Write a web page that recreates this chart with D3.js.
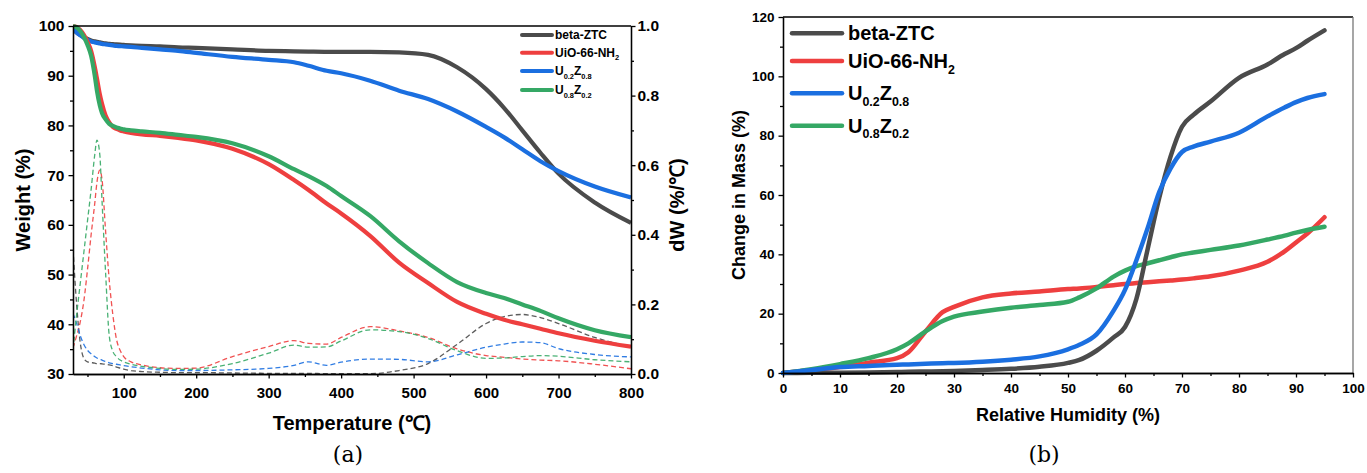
<!DOCTYPE html>
<html>
<head>
<meta charset="utf-8">
<script src="https://cdn.jsdelivr.net/npm/d3@7"></script>
<style>
  body { margin: 0; background: #fff; }
  svg text { font-family: "Liberation Sans", Arial, sans-serif; font-weight: bold; fill: #000; }
  .axis path, .axis line { stroke: #000; stroke-width: 1.3px; }
</style>
</head>
<body>
<svg id="chart" width="1367" height="473"></svg>
<script>
// series names and colours
const SERIES = ['beta-ZTC', 'UiO-66-NH_{2}', 'U_{0.2}Z_{0.8}', 'U_{0.8}Z_{0.2}'];
const COLORS = ['#4b4b4b', '#ee3f3f', '#1b6fe0', '#35a865'];

// (a) TGA / DTG - temperature grid (°C)
const temps = [30, 35, 40, 45, 50, 55, 60, 63, 67, 70, 75, 80, 85, 90, 95, 100, 110, 125, 150, 175,
  200, 250, 300, 335, 355, 380, 400, 440, 480, 520, 560, 600, 625, 650, 675, 700, 750, 800];

// weight (%)
const tgaBeta = [99.3, 98.7, 98.2, 97.8, 97.4, 97.1, 96.9, 96.8, 96.7, 96.6, 96.5, 96.4, 96.35, 96.3, 96.25, 96.2, 96.1, 96.0, 95.9, 95.7,
  95.6, 95.3, 95.0, 94.9, 94.85, 94.8, 94.8, 94.8, 94.7, 94.2, 91.7, 87.3, 83.5, 79.0, 74.5, 70.3, 64.5, 60.4];
const tgaUio = [100, 99.8, 99.2, 98.2, 96.8, 95.0, 91.8, 89.5, 86.3, 84.4, 82.0, 80.6, 79.7, 79.3, 79.0, 78.8, 78.5, 78.2, 77.9, 77.5,
  77.0, 75.3, 72.2, 69.0, 67.0, 64.3, 62.3, 57.8, 52.4, 48.3, 44.5, 42.1, 40.9, 40.0, 39.1, 38.2, 36.7, 35.5];
const tgaU02 = [99.5, 98.7, 98.1, 97.6, 97.2, 96.9, 96.7, 96.6, 96.5, 96.4, 96.3, 96.2, 96.1, 96.0, 95.95, 95.9, 95.8, 95.6, 95.3, 95.0,
  94.6, 93.8, 93.2, 92.7, 92.0, 91.0, 90.5, 89.0, 87.0, 85.3, 82.8, 79.7, 77.6, 75.2, 72.8, 70.8, 67.7, 65.5];
const tgaU08 = [100, 99.7, 99.0, 97.8, 96.2, 94.0, 90.0, 87.0, 84.0, 82.5, 81.2, 80.3, 79.9, 79.6, 79.4, 79.2, 79.0, 78.8, 78.5, 78.1,
  77.7, 76.4, 73.8, 71.2, 69.8, 67.8, 65.8, 61.8, 56.7, 52.3, 48.5, 46.3, 45.3, 44.0, 42.7, 41.2, 38.8, 37.4];

// dW (%/°C)
const dtgBeta = [0.36, 0.2, 0.09, 0.045, 0.035, 0.033, 0.031, 0.03, 0.03, 0.029, 0.028, 0.026, 0.024, 0.02, 0.017, 0.014, 0.01, 0.007, 0.005, 0.004,
  0.004, 0.003, 0.002, 0.002, 0.002, 0.001, 0.001, 0.001, 0.01, 0.03, 0.085, 0.145, 0.165, 0.171, 0.162, 0.145, 0.105, 0.078];
const dtgUio = [0.075, 0.11, 0.15, 0.21, 0.3, 0.4, 0.49, 0.55, 0.586, 0.56, 0.41, 0.27, 0.17, 0.1, 0.068, 0.05, 0.035, 0.026, 0.018, 0.016,
  0.017, 0.05, 0.079, 0.096, 0.088, 0.086, 0.105, 0.136, 0.124, 0.105, 0.072, 0.053, 0.048, 0.043, 0.04, 0.038, 0.028, 0.015];
const dtgU02 = [0.174, 0.145, 0.11, 0.085, 0.068, 0.058, 0.05, 0.046, 0.043, 0.04, 0.036, 0.032, 0.03, 0.028, 0.026, 0.024, 0.021, 0.017, 0.012, 0.01,
  0.01, 0.012, 0.016, 0.025, 0.035, 0.025, 0.034, 0.043, 0.042, 0.035, 0.055, 0.077, 0.086, 0.092, 0.09, 0.073, 0.056, 0.049];
const dtgU08 = [0.07, 0.17, 0.26, 0.35, 0.44, 0.53, 0.63, 0.672, 0.63, 0.5, 0.29, 0.11, 0.065, 0.05, 0.04, 0.035, 0.028, 0.022, 0.016, 0.013,
  0.014, 0.03, 0.06, 0.083, 0.077, 0.078, 0.095, 0.127, 0.122, 0.102, 0.067, 0.045, 0.046, 0.05, 0.053, 0.051, 0.041, 0.035];

// (b) water uptake - relative humidity (%)
const rh = [0, 5, 10, 15, 20, 22, 25, 28, 30, 35, 40, 45, 50, 52, 55, 58, 60, 62, 64, 66, 68, 70, 72, 75, 80, 85, 88, 90, 92, 95];
const massBeta = [0, 0.05, 0.1, 0.2, 0.35, 0.4, 0.5, 0.6, 0.7, 1.0, 1.4, 2.1, 3.4, 4.4, 7.5, 12, 15.5, 25, 42, 59, 73, 83, 87, 91.5, 99.5, 104, 107.5, 109.5, 112, 115.5];
const massUio = [0, 1, 2, 3.5, 5, 7, 14, 20.5, 22.3, 25.5, 26.8, 27.5, 28.3, 28.5, 29, 29.6, 30, 30.3, 30.6, 30.9, 31.2, 31.5, 31.9, 32.6, 34.5, 37.5, 41, 44, 47, 52.5];
const massU02 = [0, 1, 2, 2.4, 2.8, 2.9, 3.1, 3.3, 3.4, 3.8, 4.5, 5.6, 8, 9.5, 13, 21, 28, 38, 49, 61, 69, 74.5, 76.3, 78, 81, 86.5, 89.5, 91.3, 92.7, 94];
const massU08 = [0, 1.3, 3, 5, 8, 10, 14, 17.5, 19, 20.7, 22, 22.9, 24, 25.5, 28.5, 32.5, 34.5, 36, 37, 38, 39, 40, 40.6, 41.5, 43, 45, 46.3, 47.3, 48.2, 49.3];

// ticks
const tempTicks = [100, 200, 300, 400, 500, 600, 700, 800];
const tempMinor = [50, 150, 250, 350, 450, 550, 650, 750];
const weightTicks = [30, 40, 50, 60, 70, 80, 90, 100];
const weightMinor = [35, 45, 55, 65, 75, 85, 95];
const dwTicks = [0, 0.2, 0.4, 0.6, 0.8, 1.0];
const dwMinor = [0.1, 0.3, 0.5, 0.7, 0.9];
const rhTicks = [0, 10, 20, 30, 40, 50, 60, 70, 80, 90, 100];
const rhMinor = [5, 15, 25, 35, 45, 55, 65, 75, 85, 95];
const massTicks = [0, 20, 40, 60, 80, 100, 120];
const massMinor = [10, 30, 50, 70, 90, 110];

const svg = d3.select('#chart');
svg.append('rect').attr('width', 1367).attr('height', 473).attr('fill', '#fff');

// write a label with _{...} subscripts
function richText(sel, label, fs) {
  const parts = label.split(/(_\{[^}]*\})/).filter(p => p.length);
  let shifted = false;
  parts.forEach(p => {
    if (p.startsWith('_{')) {
      sel.append('tspan').attr('font-size', fs * 0.62).attr('dy', fs * 0.28).text(p.slice(2, -1));
      shifted = true;
    } else {
      sel.append('tspan').attr('font-size', fs).attr('dy', shifted ? -fs * 0.28 : 0).text(p);
      shifted = false;
    }
  });
}

function drawAxis(g, axisFn, scale, major, minor, fmt, fs, pad, transform) {
  const a = g.append('g').attr('class', 'axis').attr('transform', transform);
  a.append('g').call(axisFn(scale).tickValues(minor).tickSize(3).tickFormat('').tickSizeOuter(0));
  const m = a.append('g').call(axisFn(scale).tickValues(major).tickSize(4.5).tickPadding(pad).tickFormat(fmt).tickSizeOuter(0));
  m.selectAll('text').attr('font-size', fs).attr('font-family', '"Liberation Sans", Arial, sans-serif').attr('font-weight', 'bold');
  a.selectAll('path.domain').attr('stroke', '#000').attr('stroke-width', 1.3);
  a.selectAll('.tick line').attr('stroke', '#000').attr('stroke-width', 1.2);
  return a;
}

// ---------- (a) ----------
const A = { left: 73, right: 631, top: 26, bottom: 374 };
const xA = d3.scaleLinear().domain([30, 800]).range([A.left, A.right]);
const yA = d3.scaleLinear().domain([30, 100]).range([A.bottom, A.top]);
const yA2 = d3.scaleLinear().domain([0, 1]).range([A.bottom, A.top]);

const gA = svg.append('g');
svg.append('clipPath').attr('id', 'clipA').append('rect')
  .attr('x', A.left).attr('y', A.top - 3).attr('width', A.right - A.left).attr('height', A.bottom - A.top + 3);

const tga = [tgaBeta, tgaUio, tgaU02, tgaU08];
const dtg = [dtgBeta, dtgUio, dtgU02, dtgU08];

const dashLayer = gA.append('g').attr('clip-path', 'url(#clipA)');
dtg.forEach((vals, i) => {
  const line = d3.line().x((d, j) => xA(temps[j])).y(d => yA2(d)).curve(d3.curveMonotoneX);
  dashLayer.append('path').datum(vals).attr('d', line)
    .attr('fill', 'none').attr('stroke', COLORS[i]).attr('stroke-width', 1.3)
    .attr('stroke-dasharray', '5,3').attr('opacity', 0.9);
});

const solidLayer = gA.append('g').attr('clip-path', 'url(#clipA)');
[0, 2, 1, 3].forEach(i => {
  const line = d3.line().x((d, j) => xA(temps[j])).y(d => yA(d)).curve(d3.curveMonotoneX);
  solidLayer.append('path').datum(tga[i]).attr('d', line)
    .attr('fill', 'none').attr('stroke', COLORS[i]).attr('stroke-width', 4.2)
    .attr('stroke-linejoin', 'round');
});

// frame
gA.append('line').attr('x1', A.left).attr('x2', A.right).attr('y1', A.top).attr('y2', A.top)
  .attr('stroke', '#000').attr('stroke-width', 1.3);

drawAxis(gA, d3.axisBottom, xA, tempTicks, tempMinor, d3.format('d'), 15, 9, `translate(0,${A.bottom})`);
drawAxis(gA, d3.axisLeft, yA, weightTicks, weightMinor, d3.format('d'), 15.5, 4, `translate(${A.left},0)`);
drawAxis(gA, d3.axisRight, yA2, dwTicks, dwMinor, d3.format('.1f'), 15.5, 2, `translate(${A.right},0)`);

gA.append('text').attr('x', (A.left + A.right) / 2).attr('y', 430).attr('text-anchor', 'middle')
  .attr('font-size', 20).text('Temperature (℃)');
gA.append('text').attr('transform', `translate(30,${(A.top + A.bottom) / 2}) rotate(-90)`)
  .attr('text-anchor', 'middle').attr('font-size', 20).text('Weight (%)');
gA.append('text').attr('transform', `translate(684,${(A.top + A.bottom) / 2 + 5}) rotate(-90)`)
  .attr('text-anchor', 'middle').attr('font-size', 20).text('dW (%/℃)');

const legA = [35, 52.7, 71, 90];
SERIES.forEach((s, i) => {
  gA.append('line').attr('x1', 522).attr('x2', 552).attr('y1', legA[i]).attr('y2', legA[i])
    .attr('stroke', COLORS[i]).attr('stroke-width', 4).attr('stroke-linecap', 'round');
  const t = gA.append('text').attr('x', 555).attr('y', legA[i] + 4.3);
  richText(t, s, 12);
});

// ---------- (b) ----------
const B = { left: 783, right: 1353, top: 17, bottom: 373 };
const xB = d3.scaleLinear().domain([0, 100]).range([B.left, B.right]);
const yB = d3.scaleLinear().domain([0, 120]).range([B.bottom, B.top]);
const gB = svg.append('g');

const mass = [massBeta, massUio, massU02, massU08];
[1, 3, 0, 2].forEach(i => {
  const line = d3.line().x((d, j) => xB(rh[j])).y(d => yB(d)).curve(d3.curveMonotoneX);
  gB.append('path').datum(mass[i]).attr('d', line)
    .attr('fill', 'none').attr('stroke', COLORS[i]).attr('stroke-width', 4.5)
    .attr('stroke-linecap', 'round').attr('stroke-linejoin', 'round');
});

gB.append('line').attr('x1', B.left).attr('x2', B.right).attr('y1', B.top).attr('y2', B.top)
  .attr('stroke', '#000').attr('stroke-width', 1.3);
gB.append('line').attr('x1', B.right).attr('x2', B.right).attr('y1', B.top).attr('y2', B.bottom)
  .attr('stroke', '#777').attr('stroke-width', 1.3);

drawAxis(gB, d3.axisBottom, xB, rhTicks, rhMinor, d3.format('d'), 13.5, 6, `translate(0,${B.bottom})`);
drawAxis(gB, d3.axisLeft, yB, massTicks, massMinor, d3.format('d'), 13.5, 4, `translate(${B.left},0)`);

gB.append('text').attr('x', (B.left + B.right) / 2).attr('y', 421).attr('text-anchor', 'middle')
  .attr('font-size', 18).text('Relative Humidity (%)');
gB.append('text').attr('transform', `translate(745,${(B.top + B.bottom) / 2}) rotate(-90)`)
  .attr('text-anchor', 'middle').attr('font-size', 18).text('Change in Mass (%)');

const legB = [33.3, 61, 93.3, 125.7];
SERIES.forEach((s, i) => {
  gB.append('line').attr('x1', 792).attr('x2', 842).attr('y1', legB[i]).attr('y2', legB[i])
    .attr('stroke', COLORS[i]).attr('stroke-width', 4.5).attr('stroke-linecap', 'round');
  const t = gB.append('text').attr('x', 848).attr('y', legB[i] + 7);
  richText(t, s, 20);
});

// panel captions
svg.append('text').attr('x', 348).attr('y', 462).attr('text-anchor', 'middle')
  .style('font-family', '"DejaVu Serif", serif').style('font-weight', 'normal').attr('font-size', 22).text('(a)');
svg.append('text').attr('x', 1044).attr('y', 462).attr('text-anchor', 'middle')
  .style('font-family', '"DejaVu Serif", serif').style('font-weight', 'normal').attr('font-size', 22).text('(b)');
</script>
</body>
</html>
